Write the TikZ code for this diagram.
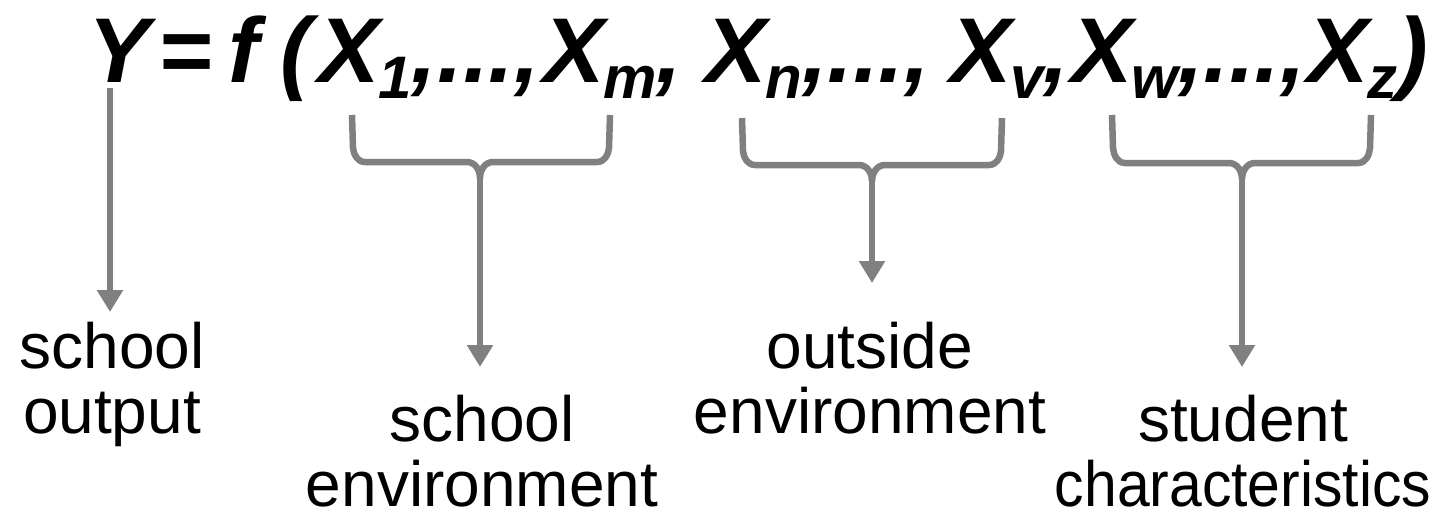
\documentclass[tikz,border=0pt]{standalone}
\usepackage{fontspec}
\setmainfont{Liberation Sans}
\usetikzlibrary{arrows.meta,calc}
\definecolor{lg}{HTML}{808080}
\newcommand\Xsub[1]{X\kern-1pt\raisebox{-16pt}{\fontsize{60}{60}\selectfont #1}}
\begin{document}
\begin{tikzpicture}[x=1pt,y=-1pt,
  eq/.style={anchor=base west,inner sep=0pt,font=\fontsize{92}{92}\selectfont\bfseries\itshape},
  lab/.style={anchor=north,inner sep=0pt,align=center,font=\fontsize{64}{65}\selectfont},
  br/.style={draw=lg,line width=6.5pt,line join=round},
  arr/.style={draw=lg,line width=6.5pt,-{Triangle[width=25pt,length=22pt]}}]
\useasboundingbox (0,0) rectangle (1455,523);
% equation
\node[eq] (Y) at (88,82) {Y};
\node[eq] (eqs) at (158,82) {=};
\node[eq] (f) at (228,82) {f};
\node[eq] (lp) at (280,82) {(};
\node[eq] (x1) at (318,82) {\Xsub{1},...,};
\node[eq] (xm) at (543,82) {\Xsub{m},};
\node[eq] (xn) at (705,82) {\Xsub{n},...,};
\node[eq] (xv) at (950,82) {\Xsub{v},};
\node[eq] (xw) at (1071,82) {\Xsub{w},...,};
\node[eq] (xz) at (1307,82) {\Xsub{z})};
% labels
\node[lab] (l1) at (112,322) {school\\output};
\node[lab] (l2) at (482,395) {school\\environment};
\node[lab] (l3) at (870,322) {outside\\environment};
\node[lab] (l4) at (1243,395) {student\\\scalebox{0.92}[1]{characteristics}};
% Y arrow
\coordinate (ya) at (110,88);
\coordinate (yt) at (110,312);
\draw[arr] (ya) -- (yt);
% braces
\newcommand\mybrace[6]{%
  \coordinate (#6l) at (#1,#3);
  \coordinate (#6r) at (#2,#3);
  \coordinate (#6c) at (#5,#4);
  \draw[br] (#6l) -- ++(1,33) to[out=-85,in=180] ($(#6l |- #6c)+(13,0)$) -- ($(#6c)+(-13,0)$) to[out=0,in=90] ($(#6c)+(0,16)$);
  \draw[br] (#6r) -- ++(-1,33) to[out=-95,in=0] ($(#6r |- #6c)+(-13,0)$) -- ($(#6c)+(13,0)$) to[out=180,in=90] ($(#6c)+(0,16)$);
}
\mybrace{352}{610}{115}{162}{480}{ba}
\coordinate (bat) at (480,367);
\draw[arr] ($(bac)+(0,8)$) -- (bat);
\mybrace{742}{1002}{118}{165}{872}{bb}
\coordinate (bbt) at (872,283);
\draw[arr] ($(bbc)+(0,8)$) -- (bbt);
\mybrace{1112}{1371}{115}{163}{1242}{bc}
\coordinate (bct) at (1242,367);
\draw[arr] ($(bcc)+(0,8)$) -- (bct);
\end{tikzpicture}
\end{document}
